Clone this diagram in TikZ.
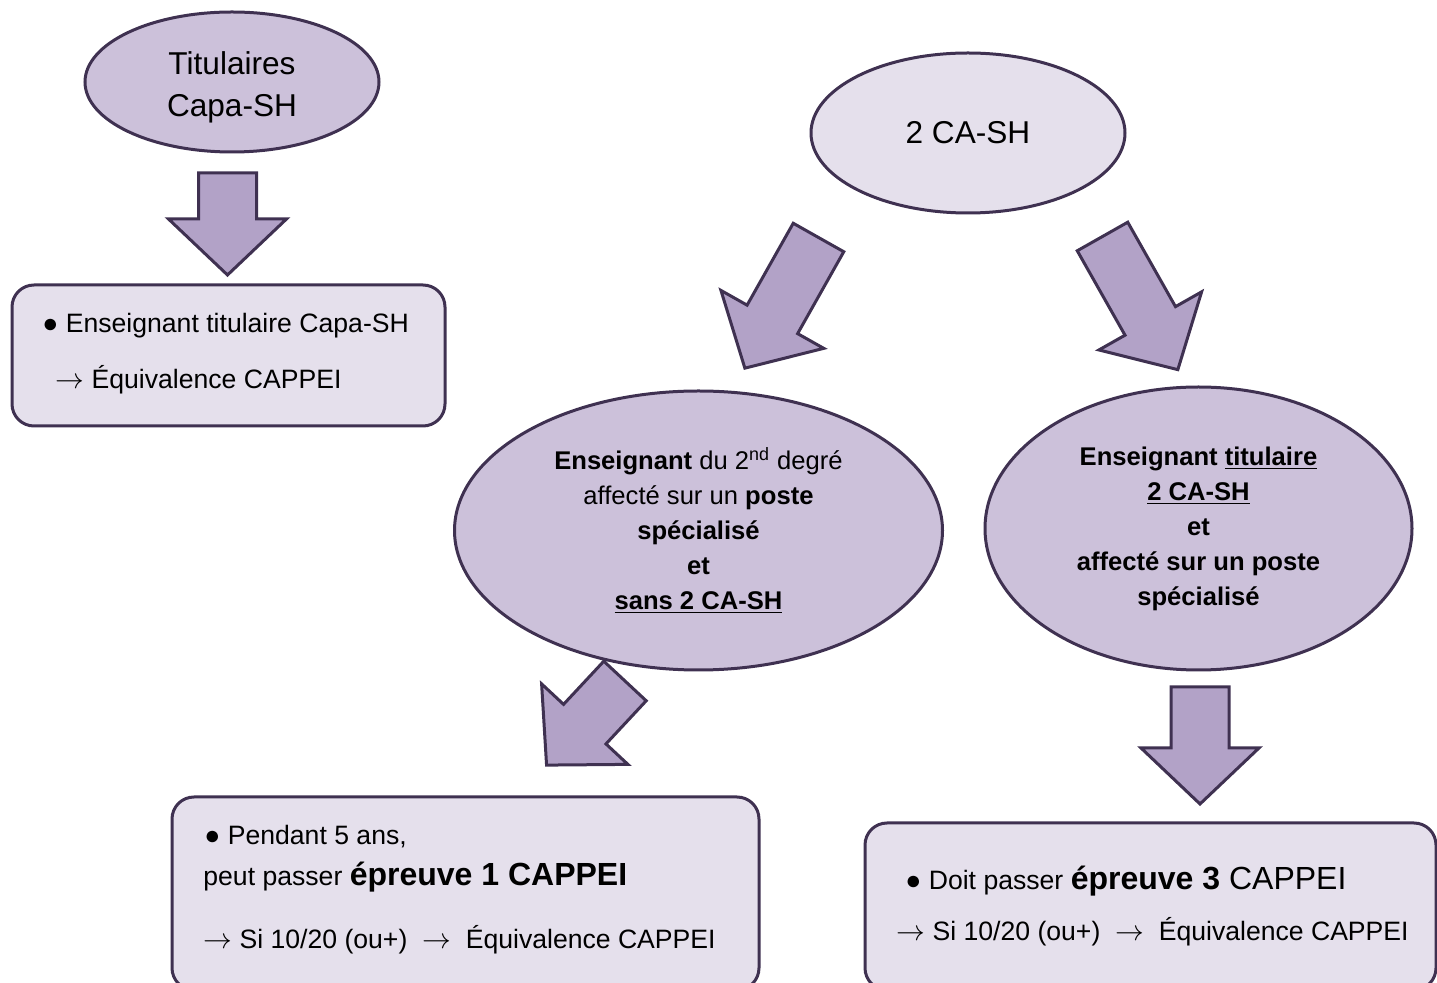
\documentclass[tikz,border=0pt]{standalone}
\usepackage{fontspec}
\setmainfont{Liberation Sans}
\usetikzlibrary{shapes.geometric}

\definecolor{darkpurple}{HTML}{3F3151}
\definecolor{midpurple}{HTML}{B2A2C7}
\definecolor{lightpurple}{HTML}{CCC1DA}
\definecolor{palepurple}{HTML}{E5E0EC}

\newcommand{\gros}{\fontsize{16}{19}\selectfont}
\newcommand{\fl}{\ensuremath{\rightarrow}}

\tikzset{
  bulle/.style = {ellipse, draw = darkpurple, line width = 1.5pt, fill = lightpurple,
    align = center, inner sep = 0pt},
  cadre/.style = {rectangle, rounded corners = 11pt, draw = darkpurple, line width = 1.5pt,
    fill = palepurple, inner sep = 0pt},
  ligne/.style = {anchor = base west, inner sep = 0pt, font = \fontsize{13.3}{16}\selectfont},
  pics/fleche/.style = {code = {
    \draw [fill = midpurple, draw = darkpurple, line width = 1.5pt, line join = miter]
      (-29, 0) -- (29, 0) -- (29, {#1-56}) -- (59, {#1-56}) -- (0, #1)
      -- (-59, {#1-56}) -- (-29, {#1-56}) -- cycle;
  }}
}

\begin{document}
\begin{tikzpicture}[x = 0.5pt, y = -0.5pt]
\useasboundingbox (0, 0) rectangle (1437, 983);

% bulles
\node (titul) at (232, 82) [bulle, minimum width = 147pt, minimum height = 70pt] {};
\node (titulT) at (232, 87) [align = center, inner sep = 0pt,
  font = \fontsize{15.8}{21}\selectfont] {Titulaires\\Capa-SH};
\node (cash) at (968, 133) [bulle, fill = palepurple, minimum width = 157pt, minimum height = 80pt,
  font = \fontsize{15.8}{21}\selectfont] {2 CA-SH};
\node (sans) at (698.5, 530.5) [bulle, minimum width = 244pt, minimum height = 139.5pt,
  font = \fontsize{12.8}{17.5}\selectfont]
  {\textbf{Enseignant} du 2\textsuperscript{nd} degré\\affecté sur un \textbf{poste}\\
   \textbf{spécialisé}\\\textbf{et}\\\textbf{\underline{sans 2 CA-SH}}};
\node (avec) at (1198.5, 528.5) [bulle, minimum width = 213.5pt, minimum height = 141.5pt,
  font = \fontsize{12.8}{17.5}\selectfont]
  {\textbf{Enseignant \underline{titulaire}}\\\textbf{\underline{2 CA-SH}}\\\textbf{et}\\
   \textbf{affecté sur un poste}\\\textbf{spécialisé}};

% cadres
\node (cadre1) at (228.5, 355.5) [cadre, minimum width = 216.5pt, minimum height = 70.5pt] {};
\node (cadre2) at (465.5, 893.5) [cadre, minimum width = 293.5pt, minimum height = 96.5pt] {};
\node (cadre3) at (1150.5, 906.5) [cadre, minimum width = 285.5pt, minimum height = 83.5pt] {};

% fleches
\pic at (227.5, 173) {fleche = 102};
\pic at (818.5, 237.5) [rotate = -29.4] {fleche = 150};
\pic at (1102.5, 236.5) [rotate = 29.5] {fleche = 153};
\pic at (625, 681) [rotate = -43] {fleche = 115};
\pic at (1200, 687) {fleche = 117};

% textes des cadres
\node (c1a) at (42, 333) [ligne] {● Enseignant titulaire Capa-SH};
\node (c1b) at (55, 389) [ligne] {\fl\ Équivalence CAPPEI};
\node (c2a) at (204, 845) [ligne] {● Pendant 5 ans,};
\node (c2b) at (203, 886) [ligne] {peut passer {\gros\bfseries épreuve 1 CAPPEI}};
\node (c2c) at (203, 949) [ligne] {\fl\ Si 10/20 (ou+)~~\fl~~Équivalence CAPPEI};
\node (c3a) at (905, 890) [ligne] {● Doit passer {\gros\textbf{épreuve 3} CAPPEI}};
\node (c3b) at (896, 941) [ligne] {\fl\ Si 10/20 (ou+)~~\fl~~Équivalence CAPPEI};
\end{tikzpicture}
\end{document}
